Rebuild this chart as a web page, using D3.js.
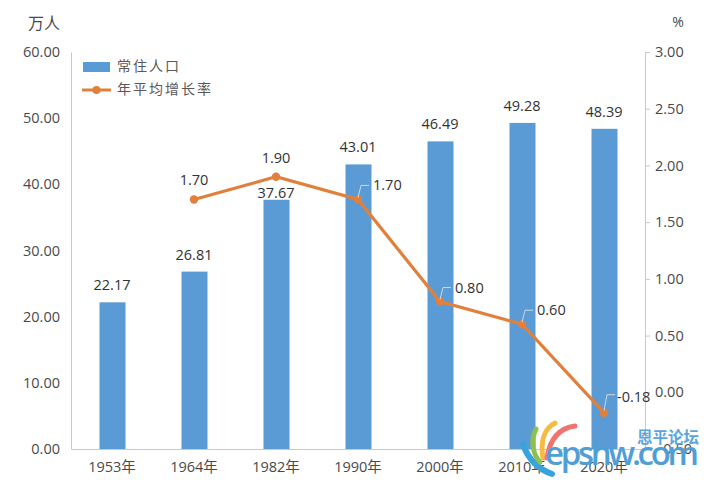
<!DOCTYPE html>
<html>
<head>
<meta charset="utf-8">
<script src="https://cdn.jsdelivr.net/npm/d3@7"></script>
<style>
body { margin: 0; background: #fff; }
text { font-family: "Open Sans", "Noto Sans CJK SC", sans-serif; }
</style>
</head>
<body>
<div id="chart"></div>
<script>
const years = ["1953年", "1964年", "1982年", "1990年", "2000年", "2010年", "2020年"];
const population = [22.17, 26.81, 37.67, 43.01, 46.49, 49.28, 48.39];
const growth = [null, 1.70, 1.90, 1.70, 0.80, 0.60, -0.18];
const leftTicks = [0, 10, 20, 30, 40, 50, 60];
const rightTicks = [-0.5, 0, 0.5, 1, 1.5, 2, 2.5, 3];

const width = 716, height = 485;
const margin = { top: 52, right: 71, bottom: 36, left: 71 };
const textColor = "#4a4a4a";
const axisColor = "#c9c9c9";
const barColor = "#5b9bd5";
const lineColor = "#e0803c";

const svg = d3.select("#chart").append("svg")
    .attr("width", width)
    .attr("height", height);

const x = d3.scaleBand().domain(years).range([margin.left, width - margin.right]);
const yLeft = d3.scaleLinear().domain([0, 60]).range([height - margin.bottom, margin.top]);
const yRight = d3.scaleLinear().domain([-0.5, 3]).range([height - margin.bottom, margin.top]);
const barWidth = 26;

function centerX(i) {
    return x(years[i]) + x.bandwidth() / 2;
}

// bars
svg.selectAll(".bar")
    .data(population)
    .enter().append("rect")
    .attr("class", "bar")
    .attr("x", function (d, i) { return centerX(i) - barWidth / 2 + 0.5; })
    .attr("y", function (d) { return yLeft(d); })
    .attr("width", barWidth)
    .attr("height", function (d) { return yLeft(0) - yLeft(d); })
    .attr("fill", barColor);

// axes
const leftAxis = svg.append("g")
    .attr("transform", "translate(" + margin.left + ",0)")
    .call(d3.axisLeft(yLeft).tickValues(leftTicks).tickSize(0).tickPadding(11).tickFormat(d3.format(".2f")));
const rightAxis = svg.append("g")
    .attr("transform", "translate(" + (width - margin.right) + ",0)")
    .call(d3.axisRight(yRight).tickValues(rightTicks).tickSize(5).tickPadding(5).tickFormat(d3.format(".2f")));
const bottomAxis = svg.append("g")
    .attr("transform", "translate(0," + (height - margin.bottom) + ")")
    .call(d3.axisBottom(x).tickSize(0).tickPadding(13));

[leftAxis, rightAxis, bottomAxis].forEach(function (a) {
    a.selectAll("path").attr("stroke", axisColor);
    a.selectAll("line").attr("stroke", axisColor);
    a.selectAll("text").attr("fill", textColor).attr("font-size", 14.5);
});

// unit labels
svg.append("text").attr("x", 44).attr("y", 29).attr("text-anchor", "middle")
    .attr("font-size", 16).attr("fill", textColor).text("万人");
svg.append("text").attr("x", 678).attr("y", 27).attr("text-anchor", "middle")
    .attr("font-size", 14).attr("fill", textColor).text("%");

// growth line
const growthLine = d3.line()
    .defined(function (d) { return d !== null; })
    .x(function (d, i) { return centerX(i); })
    .y(function (d) { return yRight(d); });

svg.append("path")
    .attr("d", growthLine(growth))
    .attr("fill", "none")
    .attr("stroke", lineColor)
    .attr("stroke-width", 3.2);

svg.selectAll(".dot")
    .data(growth)
    .enter().append("circle")
    .attr("class", "dot")
    .attr("display", function (d) { return d === null ? "none" : null; })
    .attr("cx", function (d, i) { return centerX(i); })
    .attr("cy", function (d) { return d === null ? 0 : yRight(d); })
    .attr("r", 4.2)
    .attr("fill", lineColor);

// bar labels
svg.selectAll(".bar-label")
    .data(population)
    .enter().append("text")
    .attr("class", "bar-label")
    .attr("x", function (d, i) { return centerX(i); })
    .attr("y", function (d) { return yLeft(d) - (d === 37.67 ? 2 : 12); })
    .attr("text-anchor", "middle")
    .attr("font-size", 14.5)
    .attr("fill", "#333")
    .text(function (d) { return d.toFixed(2); });

// growth labels, the first two sit above the point, the others right of it with a leader
growth.forEach(function (d, i) {
    if (d === null) return;
    const cx = centerX(i);
    const cy = yRight(d);
    if (i < 3) {
        svg.append("text")
            .attr("x", cx)
            .attr("y", cy - 14)
            .attr("text-anchor", "middle")
            .attr("font-size", 14.5)
            .attr("fill", "#333")
            .text(d.toFixed(2));
    } else {
        const rise = i === 6 ? 18 : 14;
        svg.append("path")
            .attr("d", "M" + cx + "," + (cy - 2) + "L" + (cx + 3) + "," + (cy - rise) + "L" + (cx + 11) + "," + (cy - rise))
            .attr("fill", "none")
            .attr("stroke", "#cfd8e0")
            .attr("stroke-width", 1);
        svg.append("text")
            .attr("x", cx + (i === 6 ? 13 : 15))
            .attr("y", cy - (i === 6 ? 11 : 9))
            .attr("font-size", 14.5)
            .attr("fill", "#333")
            .text(d.toFixed(2));
    }
});

// legend
const legend = svg.append("g");
legend.append("rect").attr("x", 83).attr("y", 62).attr("width", 27).attr("height", 10).attr("fill", barColor);
legend.append("text").attr("x", 117).attr("y", 71).attr("font-size", 14).attr("letter-spacing", 2).attr("fill", "#595959").text("常住人口");
legend.append("line").attr("x1", 82).attr("x2", 111).attr("y1", 90).attr("y2", 90).attr("stroke", lineColor).attr("stroke-width", 3);
legend.append("circle").attr("cx", 96.5).attr("cy", 90).attr("r", 4).attr("fill", lineColor);
legend.append("text").attr("x", 117).attr("y", 94).attr("font-size", 14).attr("letter-spacing", 2).attr("fill", "#595959").text("年平均增长率");

// watermark in the lower right corner
const mark = svg.append("g");
const arcs = [
    ["M523,444 C528,460 540,470 552,474", "#3aa3dc", 6],
    ["M536,429 C530,440 533,455 540,462", "#8cc152", 5],
    ["M555,423 C545,428 540,440 543,458", "#f6bb42", 5],
    ["M575,426 C560,428 550,438 547,458", "#f0736f", 5]
];
arcs.forEach(function (a) {
    mark.append("path").attr("d", a[0]).attr("fill", "none")
        .attr("stroke", a[1]).attr("stroke-width", a[2]).attr("stroke-linecap", "round");
});
mark.append("text").attr("x", 545).attr("y", 465).attr("font-size", 33).attr("font-weight", 600)
    .attr("textLength", 154).attr("fill", "#4f9fd6").text("epshw.com");
mark.append("text").attr("x", 637).attr("y", 443).attr("font-size", 15.5).attr("font-weight", 700)
    .attr("fill", "#5aa5dc").text("恩平论坛");
</script>
</body>
</html>
